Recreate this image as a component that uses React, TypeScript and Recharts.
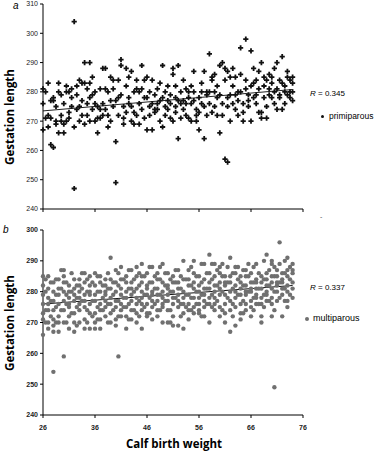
import { ScatterChart, Scatter, XAxis, YAxis, ReferenceLine } from 'recharts'

// calf birth weight -> gestation lengths (panel a, primiparous)
const PRIMI_ROWS: [number, number[]][] = [
  [26, [267, 281, 276]], [26.5, [280, 271]],
  [27, [283, 272, 268]], [27.5, [262, 271, 277]],
  [28, [261, 278, 277]], [28.5, [269, 270, 275]],
  [29, [283, 280, 266]], [29.5, [272, 270, 279]],
  [30, [266, 269, 276]], [30.5, [282, 280, 270]],
  [31, [280, 273, 271]], [31.5, [281, 278, 275]],
  [32, [304, 247, 268]], [32.5, [274, 282, 279]],
  [33, [284, 275, 270]], [33.5, [277, 283, 272]],
  [34, [290, 283, 269]], [34.5, [276, 281, 272]],
  [35, [290, 283, 278, 270]], [35.5, [274, 279, 285]],
  [36, [276, 270, 280]], [36.5, [271, 266, 275]],
  [37, [281, 274, 271]], [37.5, [276, 288, 272]],
  [38, [288, 281, 274]], [38.5, [280, 268, 272]],
  [39, [285, 277, 270]], [39.5, [284, 275, 281]],
  [40, [249, 263, 277]], [40.5, [284, 272, 278]],
  [41, [289, 291, 279]], [41.5, [275, 271, 269]],
  [42, [282, 288, 273]], [42.5, [278, 285, 276]],
  [43, [287, 275, 270]], [43.5, [280, 273, 269]],
  [44, [284, 281, 272]], [44.5, [276, 269, 280]],
  [45, [289, 281, 274]], [45.5, [271, 278, 284]],
  [46, [285, 278, 267]], [46.5, [275, 272, 280]],
  [47, [284, 267, 276]], [47.5, [273, 279, 274]],
  [48, [276, 281, 274]], [48.5, [270, 277, 283]],
  [49, [289, 278, 268]], [49.5, [275, 272, 280]],
  [50, [277, 274, 282]], [50.5, [271, 276, 279]],
  [51, [286, 288, 270]], [51.5, [278, 275, 282, 273]],
  [52, [289, 264, 277]], [52.5, [276, 280, 271]],
  [53, [284, 277, 274]], [53.5, [276, 281, 272]],
  [54, [278, 271, 280]], [54.5, [282, 276, 270]],
  [55, [287, 280, 277]], [55.5, [272, 274, 270]],
  [56, [267, 273, 278]], [56.5, [280, 276, 283]],
  [57, [287, 264, 275]], [57.5, [280, 272, 279]],
  [58, [293, 280, 276]], [58.5, [284, 285, 273]],
  [59, [280, 275, 286]], [59.5, [278, 272, 282]],
  [60, [279, 266, 289]], [60.5, [290, 272, 276]],
  [61, [257, 288, 284]], [61.5, [256, 278, 275, 287]],
  [62, [270, 285, 279]], [62.5, [282, 276, 288]],
  [63, [279, 274, 285]], [63.5, [280, 277, 272]],
  [64, [295, 286, 280]], [64.5, [276, 273, 270]],
  [65, [298, 281, 284]], [65.5, [277, 279, 275]],
  [66, [294, 270, 282]], [66.5, [288, 278, 283]],
  [67, [279, 276, 284]], [67.5, [273, 281, 287]],
  [68, [290, 273, 271]], [68.5, [278, 282, 285]],
  [69, [284, 275, 271]], [69.5, [279, 281, 286]],
  [70, [285, 283, 278]], [70.5, [280, 276, 288]],
  [71, [281, 274, 290]], [71.5, [278, 284, 279]],
  [72, [292, 283, 274]], [72.5, [280, 282, 276]],
  [73, [287, 279, 285]], [73.5, [280, 284, 278]],
  [74, [277, 280, 285, 283]],
]

// panel b, multiparous
const MULTI_ROWS: [number, number[]][] = [
  [26, [266, 282, 276, 271, 279, 273, 285]], [26.5, [280, 274, 284, 270]],
  [27, [285, 270, 278, 268, 281, 274, 276]], [27.5, [277, 283, 272]],
  [28, [254, 283, 271, 277, 269, 280, 274, 267]], [28.5, [279, 275, 284, 270]],
  [29, [284, 276, 270, 279, 272, 281, 267]], [29.5, [281, 274, 287]],
  [30, [259, 287, 274, 280, 277, 270, 283, 285]], [30.5, [276, 283, 270, 279]],
  [31, [282, 268, 275, 278, 272, 280, 276]], [31.5, [280, 286, 273]],
  [32, [284, 270, 277, 267, 281, 273, 279]], [32.5, [275, 282, 269, 278]],
  [33, [284, 274, 280, 270, 276, 282, 278]], [33.5, [281, 277, 286]],
  [34, [286, 271, 277, 283, 268, 279, 275]], [34.5, [274, 280, 270, 284]],
  [35, [279, 268, 282, 276, 273, 285, 280]], [35.5, [277, 283, 272]],
  [36, [286, 273, 279, 270, 277, 282, 268]], [36.5, [280, 275, 285, 271]],
  [37, [285, 274, 280, 276, 271, 283, 268]], [37.5, [278, 282, 274]],
  [38, [282, 277, 272, 279, 284, 275, 280]], [38.5, [286, 276, 281, 270]],
  [39, [291, 281, 276, 270, 284, 278, 273]], [39.5, [279, 274, 283]],
  [40, [269, 287, 280, 275, 283, 271, 277]], [40.5, [259, 282, 277, 286, 272]],
  [41, [288, 276, 272, 281, 279, 274, 284]], [41.5, [278, 284, 275]],
  [42, [283, 268, 278, 275, 272, 280, 285]], [42.5, [281, 276, 287, 271]],
  [43, [287, 277, 271, 281, 274, 279, 283]], [43.5, [280, 274, 284]],
  [44, [285, 273, 278, 281, 276, 270, 288]], [44.5, [277, 282, 272, 286]],
  [45, [289, 280, 268, 276, 283, 274, 278, 285]], [45.5, [279, 285, 275]],
  [46, [282, 272, 279, 286, 276, 273, 281]], [46.5, [283, 278, 288, 273]],
  [47, [288, 275, 280, 277, 283, 271, 279]], [47.5, [281, 276, 285]],
  [48, [284, 277, 281, 274, 279, 286, 272]], [48.5, [279, 284, 274, 288]],
  [49, [289, 276, 280, 283, 278, 275, 270]], [49.5, [282, 277, 286]],
  [50, [286, 270, 279, 282, 277, 274, 281]], [50.5, [280, 274, 284, 270]],
  [51, [283, 269, 276, 280, 278, 285, 272]], [51.5, [283, 278, 287]],
  [52, [287, 269, 281, 277, 275, 283, 279]], [52.5, [281, 276, 285, 272]],
  [53, [290, 268, 278, 284, 273, 280, 276]], [53.5, [279, 284, 275]],
  [54, [287, 274, 282, 279, 276, 284, 271]], [54.5, [282, 278, 288, 274]],
  [55, [290, 283, 278, 275, 281, 286, 273]], [55.5, [280, 285, 276]],
  [56, [285, 276, 280, 273, 282, 278, 274]], [56.5, [283, 279, 289, 272]],
  [57, [289, 272, 281, 277, 284, 279, 275]], [57.5, [281, 286, 276]],
  [58, [292, 270, 286, 281, 276, 283, 278]], [58.5, [284, 279, 289, 275]],
  [59, [289, 274, 282, 278, 285, 280, 276]], [59.5, [282, 277, 287]],
  [60, [288, 275, 283, 279, 272, 286, 281]], [60.5, [280, 285, 274, 289]],
  [61, [282, 270, 285, 279, 276, 283, 273]], [61.5, [283, 278, 288]],
  [62, [291, 267, 283, 280, 277, 285, 274]], [62.5, [281, 286, 276, 272]],
  [63, [288, 269, 282, 278, 286, 275, 280]], [63.5, [284, 279, 288]],
  [64, [285, 271, 279, 283, 276, 281, 273]], [64.5, [282, 287, 277, 273]],
  [65, [287, 276, 282, 279, 285, 274, 280]], [65.5, [285, 280, 289]],
  [66, [286, 272, 280, 283, 277, 281, 275]], [66.5, [283, 278, 288, 274]],
  [67, [289, 278, 284, 281, 276, 283, 279]], [67.5, [281, 286, 276]],
  [68, [285, 270, 281, 278, 283, 276, 272]], [68.5, [284, 279, 290, 275]],
  [69, [292, 277, 284, 280, 286, 282, 279]], [69.5, [282, 287, 277]],
  [70, [290, 272, 281, 285, 278, 283, 276, 289]], [70.5, [249, 285, 280, 288, 274]],
  [71, [285, 280, 283, 277, 287, 282]], [71.5, [296, 283, 278, 289]],
  [72, [272, 284, 281, 286, 279, 283]], [72.5, [286, 281, 277, 290]],
  [73, [291, 275, 287, 282, 280, 285, 277]], [73.5, [284, 279, 288]],
  [74, [289, 278, 283, 286, 281, 287]],
]

const X_TICKS = [26, 36, 46, 56, 66, 76]
const TOP_Y_TICKS = [240, 250, 260, 270, 280, 290, 300, 310]
const BOTTOM_Y_TICKS = [240, 250, 260, 270, 280, 290, 300]
const TREND_TOP = [{ x: 26, y: 273.5 }, { x: 74, y: 280.8 }]
const TREND_BOTTOM = [{ x: 26, y: 276 }, { x: 74, y: 282 }]

const flatten = (rows: [number, number[]][]) =>
  rows.flatMap(([x, ys]) => ys.map((y) => ({ x, y })))

const primiData = flatten(PRIMI_ROWS)
const multiData = flatten(MULTI_ROWS)

const PlusShape = (props: any) => {
  const { cx, cy } = props
  if (cx == null || cy == null) return null
  return (
    <path
      d={`M${cx - 2.6},${cy}H${cx + 2.6}M${cx},${cy - 2.6}V${cy + 2.6}`}
      stroke="#111"
      strokeWidth={1.8}
    />
  )
}

const DotShape = (props: any) => {
  const { cx, cy } = props
  if (cx == null || cy == null) return null
  return <circle cx={cx} cy={cy} r={2.2} fill="#707070" />
}

const tickFont = { fontSize: 7, fill: '#222', fontFamily: 'Liberation Sans, Arial, sans-serif' }
const boldTick = { ...tickFont, fontWeight: 700 }
const abs = (left: number, top: number): React.CSSProperties => ({ position: 'absolute', left, top, lineHeight: 1, whiteSpace: 'nowrap' })
const textFont = 'Liberation Sans, Arial, sans-serif'
const titleFont = '"Open Sans", sans-serif'

export default function App() {
  return (
    <div style={{ position: 'relative', width: 384, height: 453, background: '#fff', fontFamily: textFont, overflow: 'hidden' }}>
      <style>{'body { margin: 0; }'}</style>
      {/* panel a */}
      <div style={{ position: 'absolute', left: 0, top: 0 }}>
        <ScatterChart width={384} height={225} margin={{ top: 4, right: 81, left: 0, bottom: 6 }}>
          <XAxis
            type="number"
            dataKey="x"
            domain={[26, 76]}
            ticks={X_TICKS}
            tickFormatter={() => ''}
            height={10}
            tickSize={3}
            axisLine={{ stroke: '#000' }}
            tickLine={{ stroke: '#000' }}
          />
          <YAxis
            type="number"
            dataKey="y"
            domain={[240, 310]}
            ticks={TOP_Y_TICKS}
            width={43}
            tickSize={3}
            tickMargin={2}
            tick={tickFont}
            axisLine={{ stroke: '#000' }}
            tickLine={{ stroke: '#000' }}
          />
          <Scatter data={primiData} shape={PlusShape} isAnimationActive={false} />
          <ReferenceLine segment={TREND_TOP} stroke="#222" strokeWidth={1} />
        </ScatterChart>
      </div>

      {/* panel b */}
      <div style={{ position: 'absolute', left: 0, top: 222 }}>
        <ScatterChart width={384} height={231} margin={{ top: 8, right: 81, left: 0, bottom: 22 }}>
          <XAxis
            type="number"
            dataKey="x"
            domain={[26, 76]}
            ticks={X_TICKS}
            height={16}
            tickSize={3}
            tickMargin={7}
            tick={boldTick}
            axisLine={{ stroke: '#000' }}
            tickLine={{ stroke: '#000' }}
          />
          <YAxis
            type="number"
            dataKey="y"
            domain={[240, 300]}
            ticks={BOTTOM_Y_TICKS}
            width={43}
            tickSize={3}
            tickMargin={2}
            tick={boldTick}
            axisLine={{ stroke: '#000' }}
            tickLine={{ stroke: '#000' }}
          />
          <Scatter data={multiData} shape={DotShape} isAnimationActive={false} />
          <ReferenceLine segment={TREND_BOTTOM} stroke="#111" strokeWidth={1.2} />
        </ScatterChart>
      </div>

      {/* axis titles and annotations */}
      <div style={{ ...abs(10, 117), transform: 'translate(-50%, -50%) rotate(-90deg)', fontFamily: titleFont, fontWeight: 700, fontSize: 11.5 }}>
        Gestation length
      </div>
      <div style={{ ...abs(10, 323), transform: 'translate(-50%, -50%) rotate(-90deg)', fontFamily: titleFont, fontWeight: 700, fontSize: 11.5 }}>
        Gestation length
      </div>
      <div style={{ ...abs(174, 444), transform: 'translate(-50%, -50%)', fontFamily: titleFont, fontWeight: 700, fontSize: 11.5 }}>
        Calf birth weight
      </div>
      <div style={{ ...abs(13, 1), fontStyle: 'italic', fontSize: 10 }}>a</div>
      <div style={{ ...abs(3, 225), fontStyle: 'italic', fontSize: 10 }}>b</div>
      <div style={{ ...abs(320, 213), fontSize: 7, color: '#555' }}>-</div>

      <div style={{ ...abs(310, 90), fontSize: 8 }}><i>R</i> = 0.345</div>
      <div style={{ ...abs(321, 112), fontSize: 8.5, display: 'flex', alignItems: 'center' }}>
        <span style={{ display: 'inline-block', width: 3, height: 3, borderRadius: 2, background: '#111', marginRight: 5 }} />
        primiparous
      </div>
      <div style={{ ...abs(310, 284), fontSize: 8 }}><i>R</i> = 0.337</div>
      <div style={{ ...abs(305, 314), fontSize: 9, display: 'flex', alignItems: 'center' }}>
        <span style={{ display: 'inline-block', width: 4, height: 4, borderRadius: 2, background: '#707070', marginRight: 4 }} />
        multiparous
      </div>
    </div>
  )
}
